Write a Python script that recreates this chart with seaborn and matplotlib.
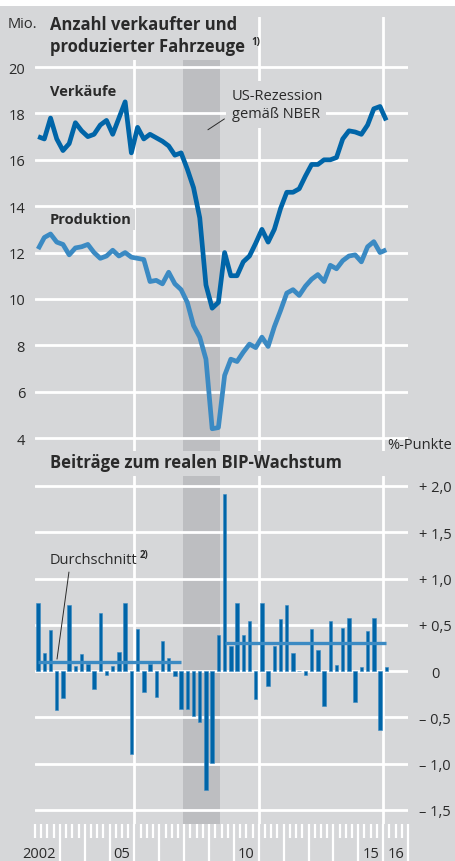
import numpy as np
import pandas as pd
import matplotlib
matplotlib.use("Agg")
import matplotlib.pyplot as plt
import matplotlib.ticker as mticker
import matplotlib.transforms as mtransforms
from matplotlib.patches import Rectangle
import seaborn as sns

# ── Data (quarterly, 2002Q1 – 2016Q1) ──────────────────────────────────────
quarters = pd.period_range("2002Q1", "2016Q1", freq="Q")

verkaeufe = [17.0, 16.9, 17.8, 16.9, 16.4, 16.7, 17.6, 17.25, 17.0, 17.1,
             17.5, 17.7, 17.1, 17.8, 18.5, 16.3, 17.4, 16.9, 17.1, 16.95,
             16.8, 16.6, 16.2, 16.3, 15.6, 14.8, 13.5, 10.6, 9.6, 9.85,
             12.0, 11.0, 11.0, 11.6, 11.85, 12.4, 13.0, 12.45, 13.0, 13.9,
             14.6, 14.6, 14.75, 15.3, 15.8, 15.8, 16.0, 16.0, 16.1, 16.9,
             17.25, 17.2, 17.1, 17.5, 18.2, 18.3, 17.7]

produktion = [12.15, 12.65, 12.8, 12.45, 12.35, 11.9, 12.2, 12.25, 12.35, 12.0,
              11.75, 11.85, 12.1, 11.85, 12.0, 11.8, 11.75, 11.7, 10.75, 10.8,
              10.65, 11.15, 10.65, 10.4, 9.85, 8.85, 8.35, 7.4, 4.4, 4.45,
              6.7, 7.4, 7.3, 7.7, 8.05, 7.9, 8.35, 7.95, 8.8, 9.5,
              10.25, 10.4, 10.15, 10.55, 10.85, 11.05, 10.75, 11.45, 11.3, 11.65,
              11.85, 11.9, 11.6, 12.25, 12.47, 12.0, 12.12]

bip_beitrag = [0.74, 0.20, 0.44, -0.42, -0.29, 0.71, 0.05, 0.19, 0.08, -0.19,
               0.63, -0.04, 0.05, 0.21, 0.74, -0.90, 0.46, -0.23, 0.08, -0.28,
               0.33, 0.14, -0.05, -0.41, -0.41, -0.49, -0.55, -1.28, -0.99, 0.39,
               1.91, 0.27, 0.74, 0.39, 0.54, -0.30, 0.74, -0.16, 0.27, 0.56,
               0.71, 0.20, 0.00, -0.04, 0.45, 0.23, -0.38, 0.54, 0.07, 0.47,
               0.57, -0.33, 0.04, 0.43, 0.57, -0.64, 0.04]

avg_vor = 0.10          # Durchschnitt vor der Rezession
avg_nach = 0.30         # Durchschnitt nach der Rezession
avg_vor_range = ("2002Q1", "2007Q4")
avg_nach_range = ("2009Q3", "2016Q1")
rezession = (2007.96, 2009.42)   # NBER Dez. 2007 – Jun. 2009

top_ticks = [4, 6, 8, 10, 12, 14, 16, 18, 20]
bottom_ticks = [-1.5, -1.0, -0.5, 0, 0.5, 1.0, 1.5, 2.0]
bottom_ticklabels = ["– 1,5", "– 1,0", "– 0,5", "0", "+ 0,5", "+ 1,0", "+ 1,5", "+ 2,0"]
year_labels = {2002: "2002", 2005: "05", 2010: "10", 2015: "15", 2016: "16"}
grid_after_years = [2005, 2010, 2015]

# ── Style ──────────────────────────────────────────────────────────────────
BG = "#d6d7d9"
SHADE = "#bdbec1"
DARK = "#0065a8"
LIGHT = "#3b8ac3"
TXT = "#2a2a2a"
GRID_LW = 2.0

sns.set_style("white")
plt.rcParams["font.family"] = ["Open Sans", "DejaVu Sans"]
plt.rcParams["text.color"] = TXT
plt.rcParams["ytick.color"] = TXT

W_PX, H_PX = 456, 862


def fx(px):
    return px / W_PX


def fy(px):
    return 1 - px / H_PX


xq = quarters.year + (quarters.quarter - 0.5) / 4
df = pd.DataFrame({"x": xq, "verkaeufe": verkaeufe,
                   "produktion": produktion, "bip": bip_beitrag})

fig = plt.figure(figsize=(W_PX / 100, H_PX / 100), dpi=100, facecolor=BG)
fig.patches.append(Rectangle((0, fy(6.5)), 1, 6.5 / H_PX, transform=fig.transFigure,
                             facecolor="white", edgecolor="none", zorder=0))

left, right = 35, 408
ax1 = fig.add_axes([fx(left), fy(452), (right - left) / W_PX, (452 - 18) / H_PX])
ax2 = fig.add_axes([fx(left), fy(825), (right - left) / W_PX, (825 - 477) / H_PX])

# ── Oberes Panel: Fahrzeuge ────────────────────────────────────────────────
sns.lineplot(data=df, x="x", y="produktion", ax=ax1, color=LIGHT, lw=3.4,
             solid_joinstyle="round", solid_capstyle="butt", zorder=3)
sns.lineplot(data=df, x="x", y="verkaeufe", ax=ax1, color=DARK, lw=3.4,
             solid_joinstyle="round", solid_capstyle="butt", zorder=4)
ax1.set_ylim(3.44, 22.16)
ax1.set_yticks(top_ticks, [str(t) for t in top_ticks])
ax1.tick_params(axis="y", length=0, pad=7.2, labelsize=10.5)

ax1.annotate("", xy=(2008.86, 17.23), xytext=(2009.71, 17.83),
             arrowprops=dict(arrowstyle="-", color=TXT, lw=0.7), zorder=6)

# ── Unteres Panel: BIP-Beiträge ────────────────────────────────────────────
sns.barplot(data=df, x="x", y="bip", ax=ax2, native_scale=True, width=0.55,
            color=DARK, edgecolor=LIGHT, linewidth=0.4, errorbar=None,
            saturation=1, zorder=2)
xs_vor = df["x"][(quarters >= avg_vor_range[0]) & (quarters <= avg_vor_range[1])]
xs_nach = df["x"][(quarters >= avg_nach_range[0]) & (quarters <= avg_nach_range[1])]
ax2.hlines(avg_vor, xs_vor.min(), xs_vor.max(), color=LIGHT, lw=2.4, zorder=4)
ax2.hlines(avg_nach, xs_nach.min(), xs_nach.max(), color=LIGHT, lw=2.4, zorder=4)
ax2.annotate("", xy=(2002.87, avg_vor), xytext=(2003.38, 1.10),
             arrowprops=dict(arrowstyle="-", color=TXT, lw=0.7), zorder=6)

ax2.set_ylim(-1.652, 2.108)
ax2.yaxis.tick_right()
ax2.set_yticks(bottom_ticks, bottom_ticklabels)
for lbl in ax2.get_yticklabels():
    lbl.set_horizontalalignment("center")
ax2.tick_params(axis="y", length=0, pad=19.4, labelsize=10.5)

# ── Gemeinsames Layout: Gitter auf Jahresgrenzen 2006/2011/2016 ────────────
grid_x = [yr + 1 for yr in grid_after_years]
for ax in (ax1, ax2):
    ax.set_xlim(2002, 2017)
    ax.set_facecolor(BG)
    ax.set_axisbelow(True)
    ax.set_xticks(grid_x)
    ax.grid(True, which="major", axis="both", color="white", lw=GRID_LW)
    ax.tick_params(axis="x", length=0, labelbottom=False, bottom=False)
    ax.set_xlabel("")
    ax.set_ylabel("")
    for s in ax.spines.values():
        s.set_visible(False)
    ax.axvspan(*rezession, color=SHADE, lw=0, zorder=0.2)

# Quartals-/Jahresstriche unter dem Balkendiagramm
sec = ax2.secondary_xaxis("bottom")
sec.spines["bottom"].set_visible(False)
sec.xaxis.set_major_locator(mticker.FixedLocator(range(2003, 2018)))
sec.xaxis.set_minor_locator(mticker.MultipleLocator(0.25))
sec.tick_params(axis="x", which="both", bottom=True, labelbottom=False,
                color="white", width=1.6, direction="out")
sec.tick_params(axis="x", which="major", length=26.6)
sec.tick_params(axis="x", which="minor", length=10)

trans = mtransforms.blended_transform_factory(ax2.transData, fig.transFigure)
for yr, lab in year_labels.items():
    if yr == 2002:
        ax2.text(yr + 0.82, fy(855), lab, transform=trans, ha="right", va="center",
                 fontsize=10.5, color=TXT)
    else:
        ax2.text(yr + 0.5, fy(855), lab, transform=trans, ha="center", va="center",
                 fontsize=10.5, color=TXT)

# ── Texte ──────────────────────────────────────────────────────────────────
box = dict(facecolor=BG, edgecolor="none", pad=3.5)
fig.text(fx(8), fy(25), "Mio.", fontsize=10.5, va="center", ha="left")
fig.text(fx(50), fy(25), "Anzahl verkaufter und", fontsize=12, fontweight="bold",
         va="center", ha="left", bbox=box)
fig.text(fx(50), fy(47), "produzierter Fahrzeuge", fontsize=12, fontweight="bold",
         va="center", ha="left", bbox=box)
fig.text(fx(251), fy(42), "1)", fontsize=7, fontweight="bold", va="center", ha="left")

fig.text(fx(50), fy(92), "Verkäufe", fontsize=10.5, fontweight="bold",
         va="center", ha="left")
fig.text(fx(50), fy(220), "Produktion", fontsize=10.5, fontweight="bold",
         va="center", ha="left", bbox=dict(facecolor=BG, edgecolor="none", pad=2.5))
fig.text(fx(232), fy(96), "US-Rezession", fontsize=10.5, va="center", ha="left",
         bbox=dict(facecolor=BG, edgecolor="none", pad=4.5))
fig.text(fx(232), fy(115), "gemäß NBER", fontsize=10.5, va="center", ha="left",
         bbox=dict(facecolor=BG, edgecolor="none", pad=4.5))

fig.text(fx(50), fy(463), "Beiträge zum realen BIP-Wachstum", fontsize=12,
         fontweight="bold", va="center", ha="left")
fig.text(fx(387), fy(446), "%-Punkte", fontsize=10.5, va="center", ha="left")
fig.text(fx(50), fy(561), "Durchschnitt", fontsize=10.5, va="center", ha="left")
fig.text(fx(140), fy(556), "2)", fontsize=7, fontweight="bold", va="center", ha="left")

fig.savefig("out.png", dpi=100, facecolor=fig.get_facecolor())
